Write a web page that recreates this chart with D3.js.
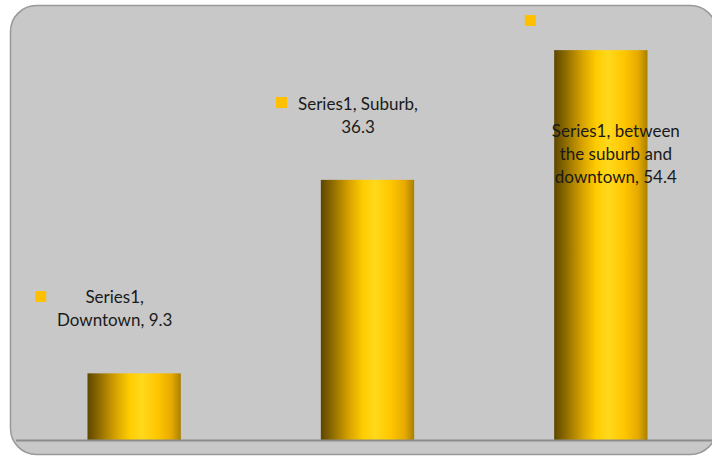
<!DOCTYPE html>
<html><head><meta charset="utf-8">
<script src="https://cdn.jsdelivr.net/npm/d3@7"></script>
<style>body{margin:0;background:#fff}svg{display:block}</style>
</head><body>
<svg id="c" width="712" height="465"></svg>
<script>
const categories = ["Downtown", "Suburb", "between the suburb and downtown"];
const values = [9.3, 36.3, 54.4];
const seriesName = "Series1";
const labelLines = [
  ["Series1,", "Downtown, 9.3"],
  ["Series1, Suburb,", "36.3"],
  ["Series1, between", "the suburb and", "downtown, 54.4"]
];

const svg = d3.select("#c");
const W = 712, H = 465;

// chart area
svg.append("rect").attr("x", 10.5).attr("y", 5.5).attr("width", 706).attr("height", 449)
  .attr("rx", 26).attr("ry", 26).attr("fill", "#c8c8c8").attr("stroke", "#999").attr("stroke-width", 1.5);

const x = d3.scaleBand().domain(categories).range([17.5, 717.5]).paddingInner(0.6).paddingOuter(0.3);
const y = d3.scaleLinear().domain([0, 60]).range([440, 10]);

const defs = svg.append("defs");
const g = defs.append("linearGradient").attr("id", "gold").attr("x1", "0%").attr("x2", "100%").attr("y1", "0%").attr("y2", "0%");
[[0, "#5e4600"], [0.12, "#8c6a00"], [0.3, "#d6a200"], [0.45, "#ffcc00"], [0.58, "#ffd91c"], [0.75, "#ffc600"], [0.9, "#e6aa00"], [1, "#a88000"]]
  .forEach(([o, c]) => g.append("stop").attr("offset", o).attr("stop-color", c));

svg.append("g").selectAll("rect").data(values).join("rect")
  .attr("x", (d, i) => x(categories[i]))
  .attr("width", x.bandwidth())
  .attr("y", d => y(d))
  .attr("height", d => y(0) - y(d))
  .attr("fill", "url(#gold)");

// baseline axis
svg.append("line").attr("x1", 16).attr("x2", 712).attr("y1", y(0) + 0.5).attr("y2", y(0) + 0.5)
  .attr("stroke", "#8c8c8c").attr("stroke-width", 2);

// data labels (positions relative to bars)
const labelPos = [
  { dx: -19.5, y0: 303, kx: -99, ky: 291 },
  { dx: -9.5, y0: 110, kx: -91.5, ky: 97 },
  { dx: 15, y0: 137, kx: -76, ky: 15 }
];
const fontFamily = "Lato, 'Noto Sans', sans-serif";
labelLines.forEach((lines, i) => {
  const cx = x(categories[i]) + x.bandwidth() / 2;
  const p = labelPos[i];
  svg.append("rect").attr("x", cx + p.kx).attr("y", p.ky).attr("width", 11).attr("height", 11).attr("fill", "#ffc000");
  const t = svg.append("text").attr("text-anchor", "middle").attr("font-family", fontFamily)
    .attr("font-size", 17).attr("fill", "#1a1a1a");
  lines.forEach((l, j) => t.append("tspan").attr("x", cx + p.dx).attr("y", p.y0 + j * 23).text(l));
});
</script>
</body></html>
